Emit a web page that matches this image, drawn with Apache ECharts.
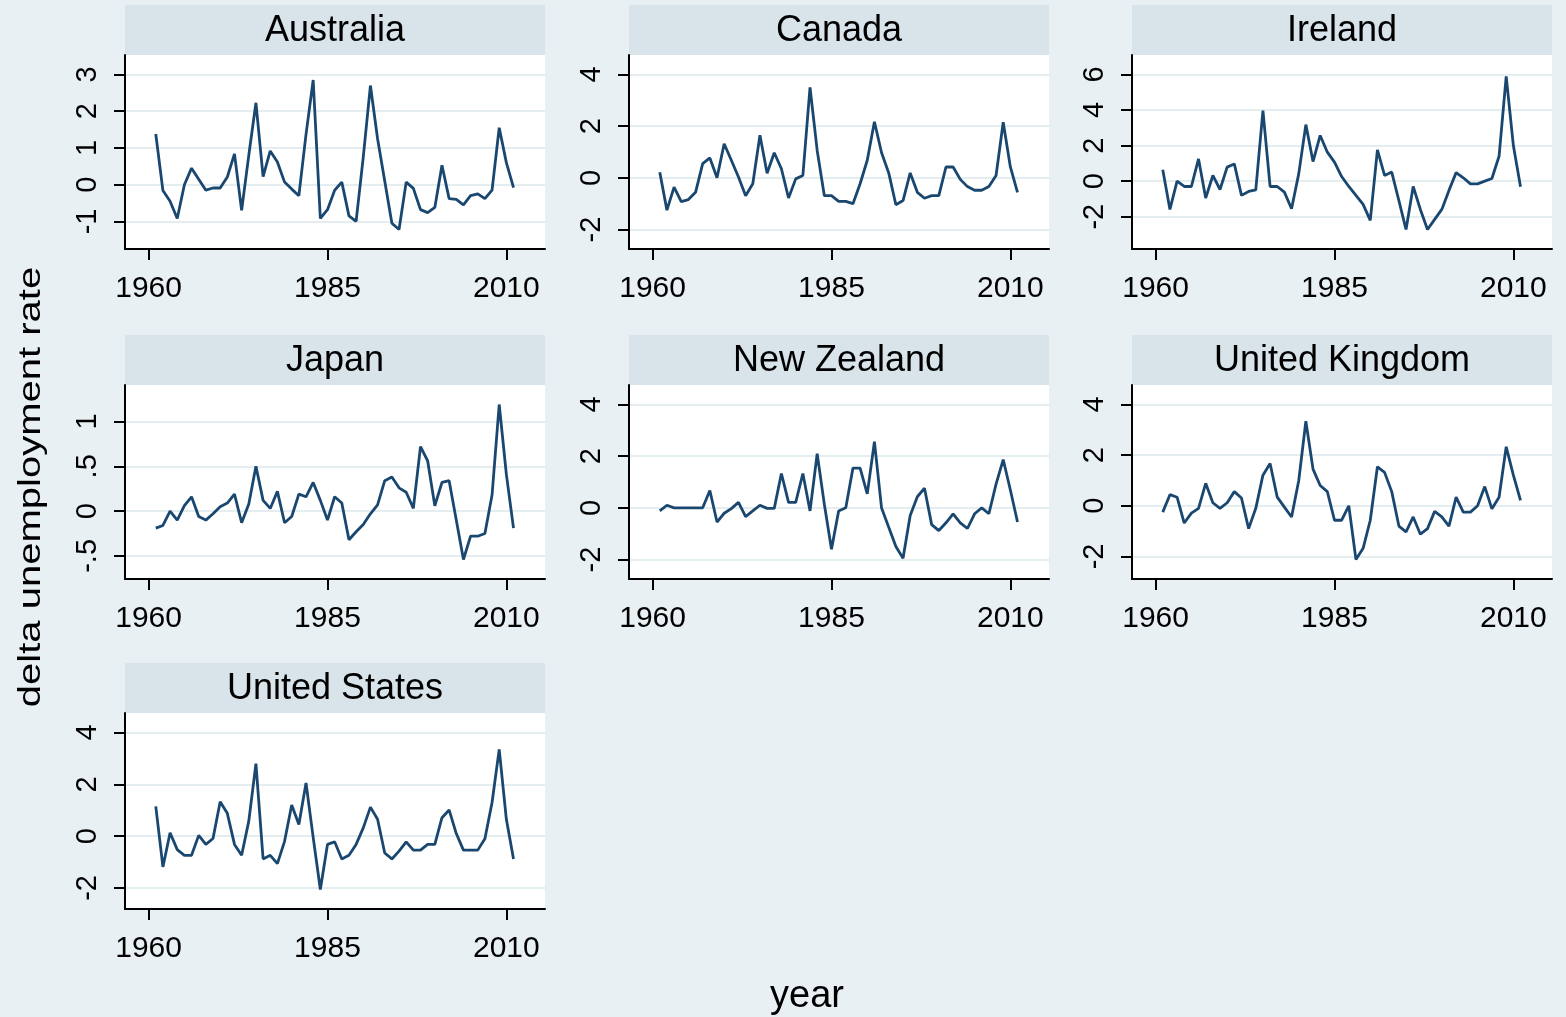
<!DOCTYPE html>
<html>
<head>
<meta charset="utf-8">
<title>delta unemployment rate</title>
<script src="https://cdn.jsdelivr.net/npm/echarts@6/dist/echarts.min.js"></script>
<style>
  html, body { margin: 0; padding: 0; background: #e8f0f3; }
  #chart { width: 1566px; height: 1017px; }
</style>
</head>
<body>
<div id="chart"></div>
<script>
// years on the x axis
const years = [1961, 1962, 1963, 1964, 1965, 1966, 1967, 1968, 1969, 1970,
  1971, 1972, 1973, 1974, 1975, 1976, 1977, 1978, 1979, 1980,
  1981, 1982, 1983, 1984, 1985, 1986, 1987, 1988, 1989, 1990,
  1991, 1992, 1993, 1994, 1995, 1996, 1997, 1998, 1999, 2000,
  2001, 2002, 2003, 2004, 2005, 2006, 2007, 2008, 2009, 2010,
  2011];
const xTicks = [1960, 1985, 2010];

// delta unemployment rate, one value per year
const australia = [1.38, -0.16, -0.45, -0.92, 0.0, 0.45, 0.15, -0.15, -0.09, -0.09,
  0.21, 0.84, -0.70, 0.8, 2.23, 0.22, 0.92, 0.62, 0.07, -0.12,
  -0.30, 1.37, 2.85, -0.92, -0.68, -0.15, 0.07, -0.85, -1.0, 0.75,
  2.7, 1.25, 0.1, -1.05, -1.22, 0.07, -0.1, -0.68, -0.76, -0.62,
  0.53, -0.38, -0.40, -0.55, -0.30, -0.25, -0.38, -0.15, 1.55, 0.6,
  -0.08];
const canada = [0.22, -1.25, -0.36, -0.92, -0.84, -0.56, 0.55, 0.77, 0.0, 1.32,
  0.68, 0.03, -0.69, -0.23, 1.65, 0.18, 0.97, 0.35, -0.78, -0.04,
  0.09, 3.5, 1.06, -0.69, -0.69, -0.91, -0.91, -1.0, -0.23, 0.68,
  2.17, 0.97, 0.19, -1.04, -0.88, 0.19, -0.56, -0.79, -0.69, -0.69,
  0.42, 0.42, -0.06, -0.34, -0.48, -0.48, -0.34, 0.09, 2.15, 0.42,
  -0.56];
const ireland = [0.64, -1.59, 0.0, -0.3, -0.3, 1.25, -0.95, 0.32, -0.47, 0.79,
  0.97, -0.8, -0.58, -0.49, 3.97, -0.3, -0.3, -0.62, -1.55, 0.41,
  3.18, 1.1, 2.57, 1.63, 1.07, 0.26, -0.3, -0.8, -1.31, -2.21,
  1.76, 0.32, 0.51, -1.1, -2.72, -0.3, -1.59, -2.72, -2.15, -1.59,
  -0.52, 0.48, 0.19, -0.15, -0.15, 0.0, 0.15, 1.4, 5.9, 2.0,
  -0.32];
const japan = [-0.19, -0.16, 0.0, -0.10, 0.06, 0.16, -0.06, -0.10, -0.03, 0.05,
  0.09, 0.19, -0.13, 0.08, 0.50, 0.12, 0.03, 0.22, -0.13, -0.06,
  0.19, 0.16, 0.32, 0.12, -0.10, 0.16, 0.09, -0.32, -0.23, -0.15,
  -0.03, 0.07, 0.34, 0.38, 0.26, 0.21, 0.03, 0.72, 0.56, 0.06,
  0.32, 0.34, -0.10, -0.54, -0.28, -0.28, -0.25, 0.18, 1.19, 0.41,
  -0.19];
const newZealand = [-0.12, 0.1, 0.0, 0.0, 0.0, 0.0, 0.0, 0.67, -0.55, -0.21,
  -0.03, 0.21, -0.34, -0.12, 0.1, -0.02, -0.02, 1.33, 0.21, 0.21,
  1.33, -0.12, 2.1, 0.14, -1.6, -0.12, 0.0, 1.54, 1.54, 0.54,
  2.56, -0.01, -0.75, -1.5, -1.95, -0.3, 0.43, 0.76, -0.65, -0.88,
  -0.58, -0.23, -0.58, -0.8, -0.23, 0.0, -0.23, 0.92, 1.87, 0.69,
  -0.55];
const unitedKingdom = [-0.25, 0.44, 0.34, -0.68, -0.29, -0.1, 0.89, 0.12, -0.1, 0.12,
  0.56, 0.31, -0.9, -0.1, 1.21, 1.67, 0.34, -0.05, -0.44, 0.99,
  3.34, 1.45, 0.8, 0.56, -0.57, -0.57, 0.0, -2.12, -1.68, -0.57,
  1.54, 1.32, 0.56, -0.8, -1.03, -0.44, -1.12, -0.9, -0.22, -0.44,
  -0.8, 0.34, -0.25, -0.25, 0.0, 0.76, -0.12, 0.34, 2.33, 1.21,
  0.21];
const unitedStates = [1.15, -1.19, 0.13, -0.52, -0.74, -0.74, 0.03, -0.32, -0.09, 1.33,
  0.88, -0.32, -0.74, 0.58, 2.8, -0.88, -0.74, -1.06, -0.2, 1.2,
  0.45, 2.05, -0.05, -2.06, -0.32, -0.22, -0.88, -0.74, -0.32, 0.32,
  1.12, 0.65, -0.65, -0.88, -0.58, -0.22, -0.54, -0.54, -0.32, -0.32,
  0.71, 1.01, 0.1, -0.54, -0.54, -0.54, -0.1, 1.3, 3.35, 0.65,
  -0.88];

// y tick labels per panel
const ticksAustralia = [-1, 0, 1, 2, 3];
const ticksCanada = [-2, 0, 2, 4];
const ticksIreland = [-2, 0, 2, 4, 6];
const ticksJapan = [-0.5, 0, 0.5, 1];
const ticksNewZealand = [-2, 0, 2, 4];
const ticksUnitedKingdom = [-2, 0, 2, 4];
const ticksUnitedStates = [-2, 0, 2, 4];

const panels = [
  { name: 'Australia', values: australia, ticks: ticksAustralia },
  { name: 'Canada', values: canada, ticks: ticksCanada },
  { name: 'Ireland', values: ireland, ticks: ticksIreland },
  { name: 'Japan', values: japan, ticks: ticksJapan },
  { name: 'New Zealand', values: newZealand, ticks: ticksNewZealand },
  { name: 'United Kingdom', values: unitedKingdom, ticks: ticksUnitedKingdom },
  { name: 'United States', values: unitedStates, ticks: ticksUnitedStates }
];

const FONT = '"Liberation Sans", Arial, sans-serif';
const LINE = '#1a476f';
const colLeft = [125, 629, 1132];
const rowTop = [55, 385, 713];
const rowH = [194, 194, 196];
const panelW = 420;
const stripH = 50;

// stata-like range: data + ticks, plus a fixed pixel margin
function yRange(vals, ticks, h) {
  const lo = Math.min(...vals, ...ticks);
  const hi = Math.max(...vals, ...ticks);
  const pad = (hi - lo) * 19.5 / (h - 39);
  return [lo - pad, hi + pad];
}

function fmt(v) {
  return String(v).replace(/^(-?)0\./, '$1.');
}

const grid = [], xAxis = [], yAxis = [], series = [], graphic = [];

panels.forEach(function (p, i) {
  const col = i % 3, row = Math.floor(i / 3);
  const left = colLeft[col], top = rowTop[row], h = rowH[row];
  const range = yRange(p.values, p.ticks, h);

  grid.push({
    left: left, top: top, width: panelW, height: h,
    show: true, backgroundColor: '#ffffff', borderWidth: 0
  });

  xAxis.push({
    type: 'value', gridIndex: i, min: 1956.7, max: 2015.4,
    axisLine: { onZero: false, lineStyle: { color: '#000', width: 2 } },
    axisTick: { customValues: xTicks, length: 11, lineStyle: { color: '#000', width: 2 } },
    axisLabel: {
      customValues: xTicks, margin: 25, color: '#000',
      fontSize: 30, fontFamily: FONT,
      formatter: function (v) { return String(v); }
    },
    splitLine: { show: false }
  });

  yAxis.push({
    type: 'value', gridIndex: i, min: range[0], max: range[1],
    axisLine: { show: true, onZero: false, lineStyle: { color: '#000', width: 2 } },
    axisTick: { show: true, customValues: p.ticks, length: 11, lineStyle: { color: '#000', width: 2 } },
    axisLabel: {
      customValues: p.ticks, rotate: 90, margin: 23, color: '#000',
      fontSize: 29, fontFamily: FONT, formatter: fmt
    },
    splitLine: { show: true, lineStyle: { color: '#e4edf0', width: 2 } }
  });

  series.push({
    type: 'line', name: p.name, xAxisIndex: i, yAxisIndex: i,
    data: years.map(function (y, k) { return [y, p.values[k]]; }),
    showSymbol: false, symbol: 'none',
    lineStyle: { color: LINE, width: 2.8 },
    itemStyle: { color: LINE },
    animation: false
  });

  // strip with panel name
  graphic.push({
    type: 'rect', left: left, top: top - stripH, z: 0,
    shape: { width: panelW, height: stripH },
    style: { fill: '#d8e4ea' }
  });
  graphic.push({
    type: 'text', x: left + panelW / 2, y: top - stripH / 2 + 1, z: 1,
    style: {
      text: p.name, fill: '#000', font: '36px ' + FONT,
      textAlign: 'center', textVerticalAlign: 'middle'
    }
  });
});

// axis titles
graphic.push({
  type: 'text', x: 31, y: 487, rotation: Math.PI / 2, scaleX: 1.25, z: 1,
  style: {
    text: 'delta unemployment rate', fill: '#000', font: '32px ' + FONT,
    textAlign: 'center', textVerticalAlign: 'middle'
  }
});
graphic.push({
  type: 'text', x: 807, y: 997, z: 1,
  style: {
    text: 'year', fill: '#000', font: '38px ' + FONT,
    textAlign: 'center', textVerticalAlign: 'middle'
  }
});

const chart = echarts.init(document.getElementById('chart'), null, { renderer: 'canvas' });
chart.setOption({
  backgroundColor: '#e8f0f3',
  animation: false,
  grid: grid,
  xAxis: xAxis,
  yAxis: yAxis,
  series: series,
  graphic: graphic
});
</script>
</body>
</html>
